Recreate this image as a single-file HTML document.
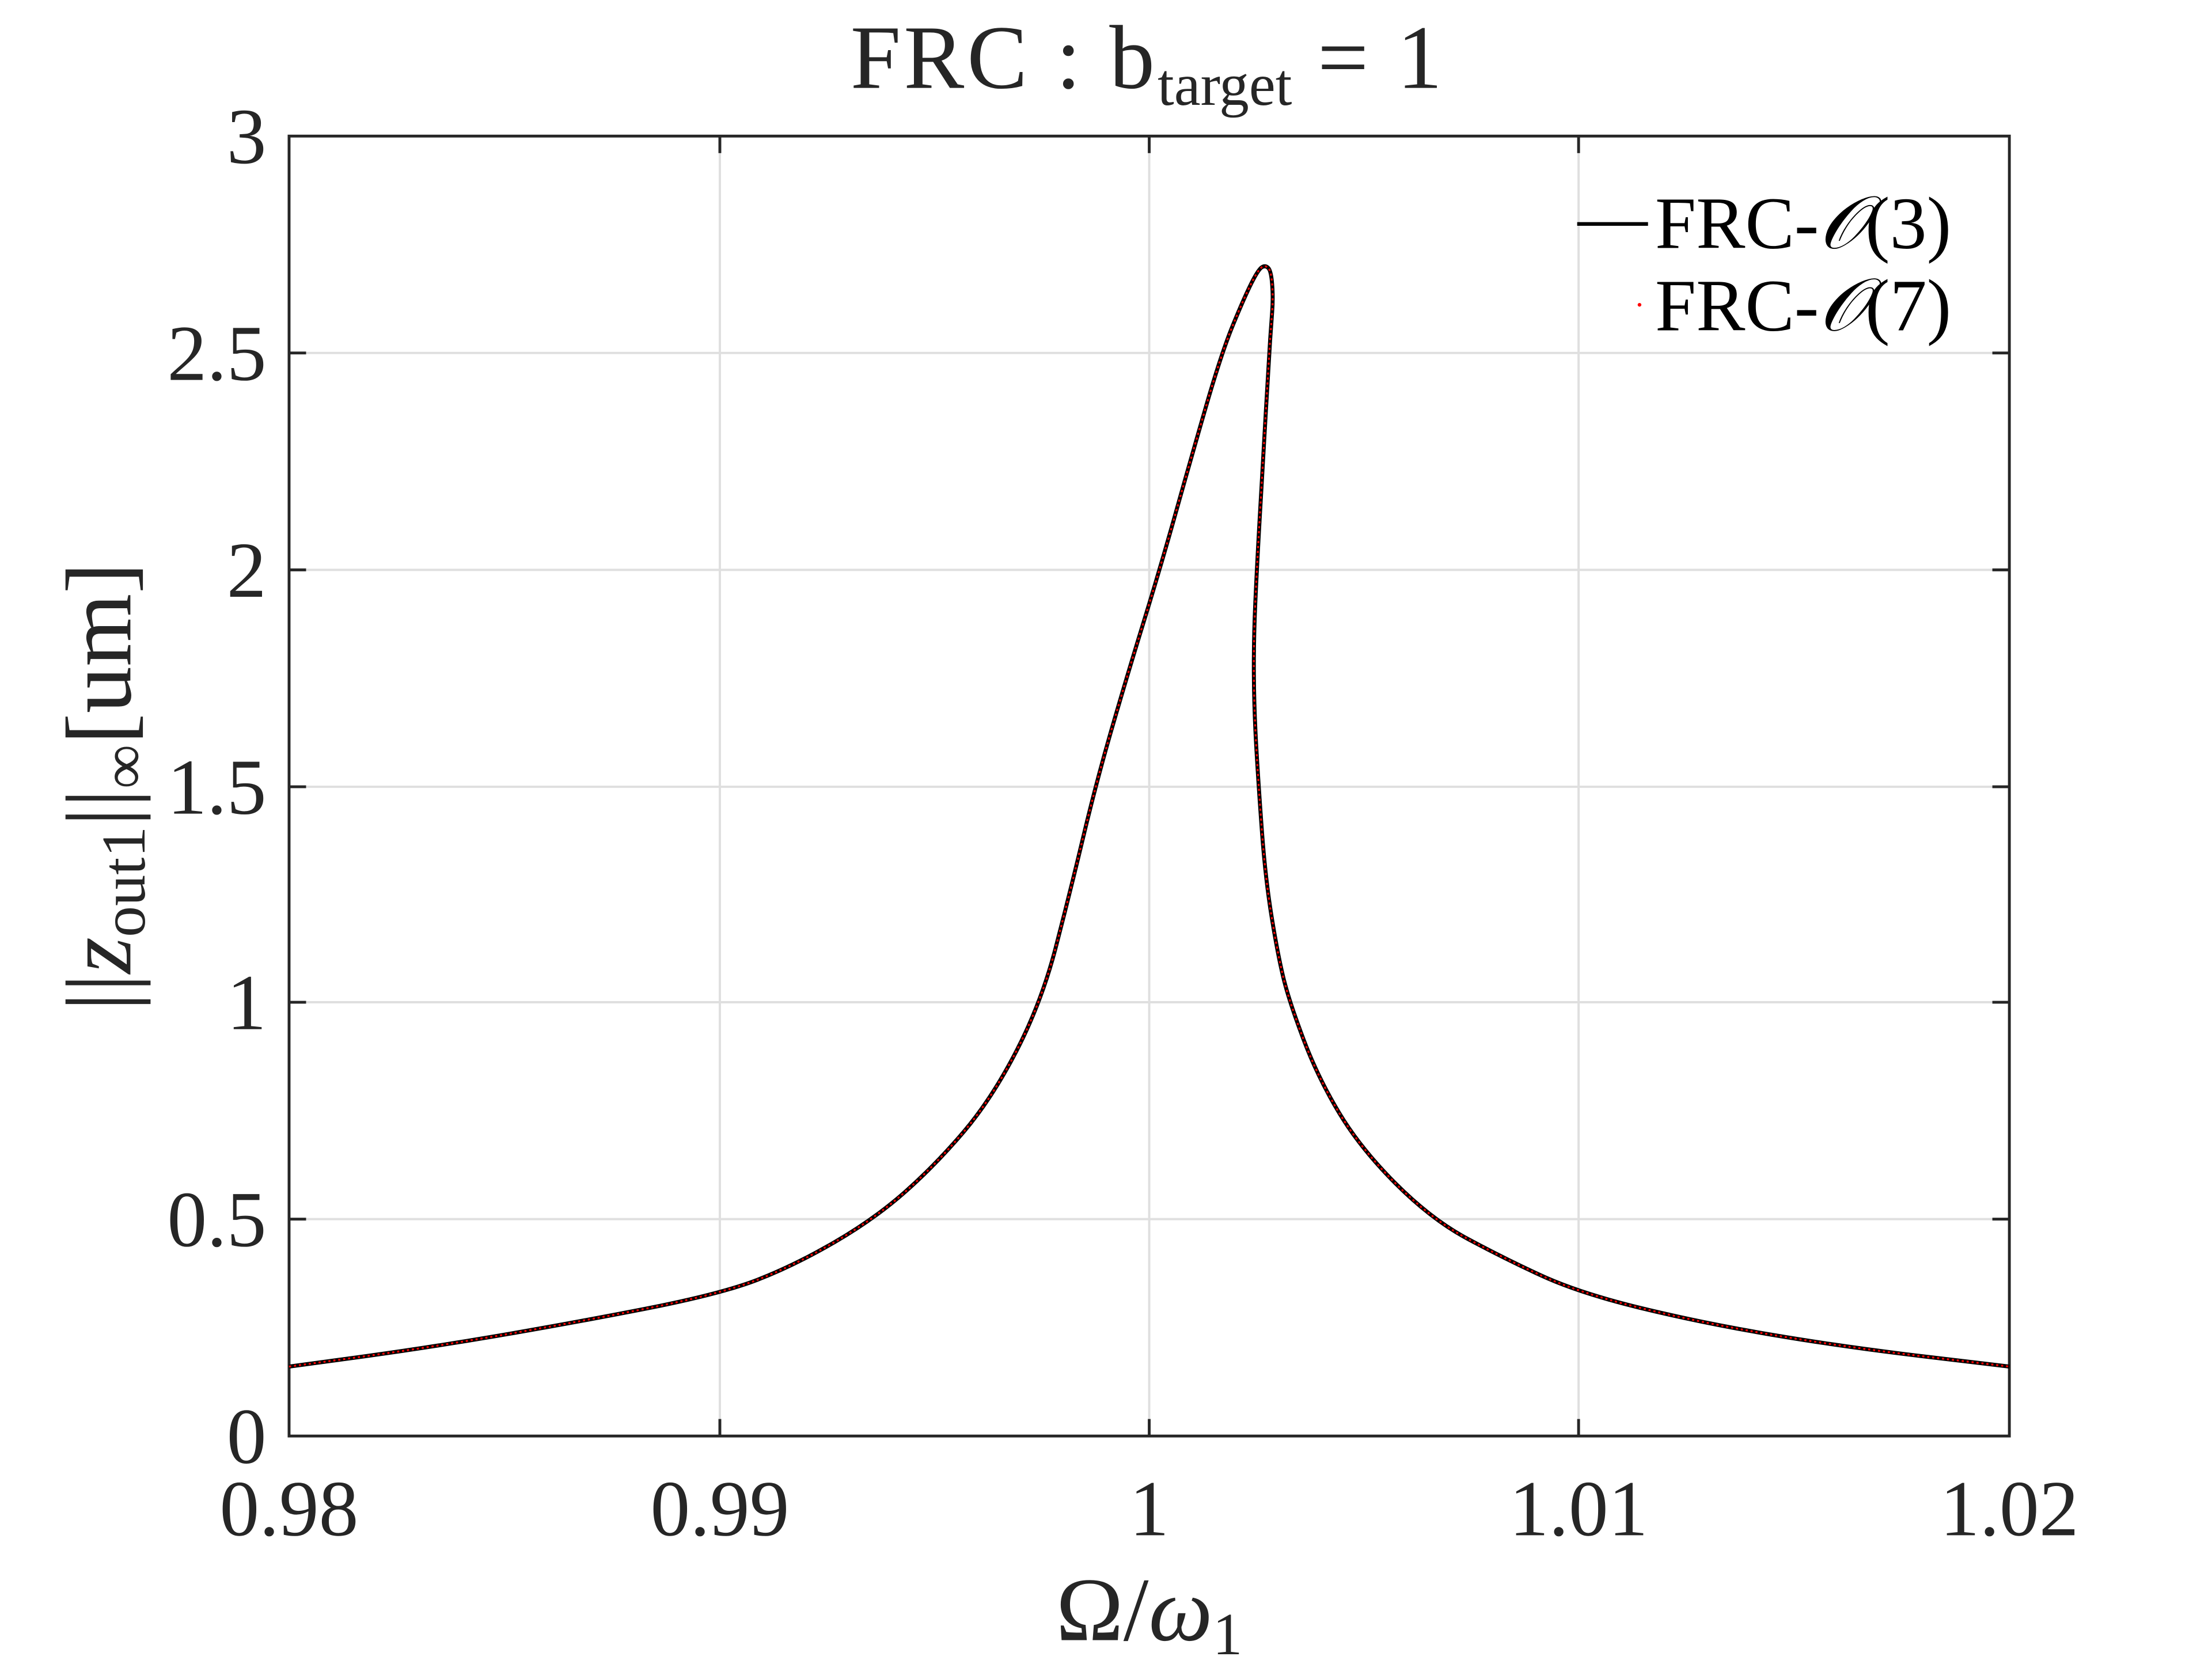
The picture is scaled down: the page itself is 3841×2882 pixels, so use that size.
<!DOCTYPE html>
<html><head><meta charset="utf-8"><style>
html,body{margin:0;padding:0;background:#fff;}
svg{display:block;}
text{font-family:"Liberation Serif","DejaVu Serif",serif;fill:#262626;}
</style></head><body>
<svg width="3841" height="2882" viewBox="0 0 1561 1171" preserveAspectRatio="none" xmlns="http://www.w3.org/2000/svg">
<defs>
<path id="c" d="M 204,964 L 252,957.5 Q 300,951 350,942.5 Q 400,934 454,923.5 Q 508,913 534,903 Q 560,893 588.5,876.5 Q 617,860 638.5,841 Q 660,822 680,798.5 Q 700,775 717.5,741 Q 735,707 745,668.5 Q 755,630 764.3,591 Q 773.6,552 784.3,515 Q 795,478 807,439 Q 819,400 829.5,362.5 Q 840,325 851,287 Q 862,249 870,229.5 Q 878,210 883,200 Q 888,190 890.5,188.5 Q 893,187 895,189 Q 897,191 897.75,200.5 Q 898.5,210 897.75,220 Q 897,230 896.35,239.5 Q 895.7,249 893.35,289.5 Q 891,330 889,365 Q 887,400 885.85,425.5 Q 884.7,451 884.85,475.5 Q 885,500 886.5,526 Q 888,552 890.5,586 Q 893,620 897.5,647.5 Q 902,675 906,691 Q 910,707 920,733.5 Q 930,760 945,785 Q 960,810 985,835 Q 1010,860 1035,873.5 Q 1060,887 1087,899.5 Q 1114,912 1157,922.5 Q 1200,933 1250,941.5 Q 1300,950 1359,957 L 1418,964" fill="none"/>
</defs>
<rect x="0" y="0" width="1561" height="1171" fill="#fff"/>
<g stroke="#dfdfdf" stroke-width="1.6">
<line x1="508" y1="96" x2="508" y2="1013"/>
<line x1="811" y1="96" x2="811" y2="1013"/>
<line x1="1114" y1="96" x2="1114" y2="1013"/>
<line x1="204" y1="249" x2="1418" y2="249"/>
<line x1="204" y1="402" x2="1418" y2="402"/>
<line x1="204" y1="555" x2="1418" y2="555"/>
<line x1="204" y1="707" x2="1418" y2="707"/>
<line x1="204" y1="860" x2="1418" y2="860"/>
</g>
<g stroke="#262626" stroke-width="2">
<rect x="204" y="96" width="1214" height="917" fill="none"/>
<line x1="508" y1="1013" x2="508" y2="1001"/><line x1="811" y1="1013" x2="811" y2="1001"/><line x1="1114" y1="1013" x2="1114" y2="1001"/>
<line x1="508" y1="96" x2="508" y2="108"/><line x1="811" y1="96" x2="811" y2="108"/><line x1="1114" y1="96" x2="1114" y2="108"/>
<line x1="204" y1="249" x2="216" y2="249"/><line x1="204" y1="402" x2="216" y2="402"/><line x1="204" y1="555" x2="216" y2="555"/><line x1="204" y1="707" x2="216" y2="707"/><line x1="204" y1="860" x2="216" y2="860"/>
<line x1="1418" y1="249" x2="1406" y2="249"/><line x1="1418" y1="402" x2="1406" y2="402"/><line x1="1418" y1="555" x2="1406" y2="555"/><line x1="1418" y1="707" x2="1406" y2="707"/><line x1="1418" y1="860" x2="1406" y2="860"/>
</g>
<use href="#c" stroke="#000" stroke-width="2.8" stroke-linejoin="round"/>
<use href="#c" stroke="#ff0000" stroke-width="1.3" stroke-dasharray="1.5 2"/>
<g font-size="56" text-anchor="middle">
<text x="204" y="1083">0.98</text><text x="508" y="1083">0.99</text><text x="811" y="1083">1</text><text x="1114" y="1083">1.01</text><text x="1418" y="1083">1.02</text>
</g>
<g font-size="56" text-anchor="end">
<text x="188" y="1032">0</text><text x="188" y="879">0.5</text><text x="188" y="726">1</text><text x="188" y="574">1.5</text><text x="188" y="421">2</text><text x="188" y="268">2.5</text><text x="188" y="115">3</text>
</g>
<text x="810" y="62" font-size="64" text-anchor="middle" letter-spacing="2">FRC : b<tspan font-size="42" dy="12" letter-spacing="0">target</tspan><tspan dy="-12"> = 1</tspan></text>
<text x="811" y="1157" font-size="64" text-anchor="middle">Ω/<tspan font-style="italic">ω</tspan><tspan font-size="42" dy="10">1</tspan></text>
<text transform="translate(92,555) rotate(-90)" font-size="66" text-anchor="middle">||<tspan font-style="italic">z</tspan><tspan font-size="44" dy="10">out1</tspan><tspan dy="-10">||</tspan><tspan font-size="44" dy="10">∞</tspan><tspan dy="-10">[um]</tspan></text>
<line x1="1113" y1="158" x2="1163" y2="158" stroke="#000" stroke-width="2.6"/>
<circle cx="1157" cy="215" r="1.3" fill="#ff0000"/>
<g font-size="52">
<text x="1168" y="175" style="fill:#000">FRC-<tspan font-style="italic">𝒪</tspan>(3)</text>
<text x="1168" y="233" style="fill:#000">FRC-<tspan font-style="italic">𝒪</tspan>(7)</text>
</g>
</svg>
</body></html>
